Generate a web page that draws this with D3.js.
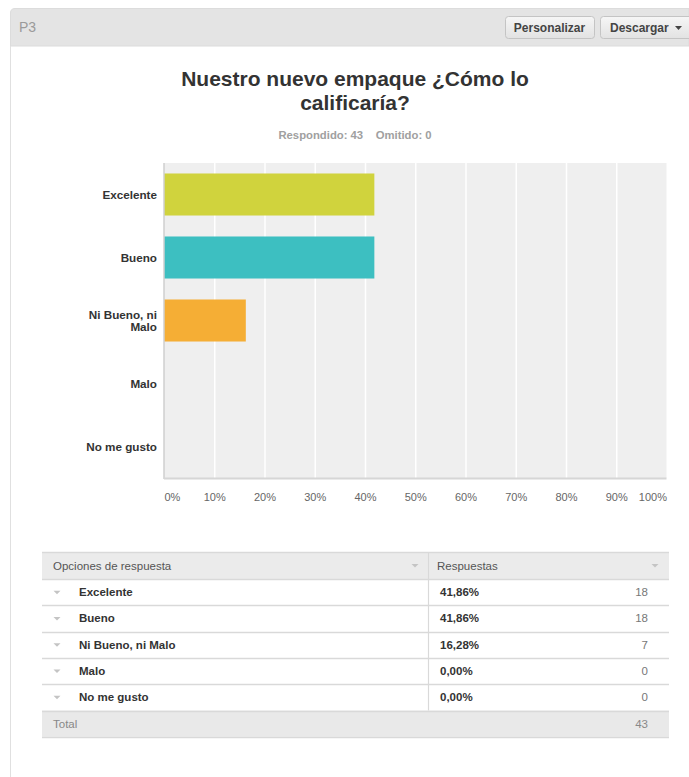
<!DOCTYPE html>
<html>
<head>
<meta charset="utf-8">
<script src="https://cdn.jsdelivr.net/npm/d3@7"></script>
<style>
  html, body { margin: 0; padding: 0; background: #fff; }
  svg { display: block; font-family: "Liberation Sans", Arial, Helvetica, sans-serif; }
</style>
</head>
<body>
<svg id="page" width="689" height="777"></svg>
<script>
// ---- Data ----
const questionId = "P3";
const title = ["Nuestro nuevo empaque ¿Cómo lo", "calificaría?"];
const answered = 43;
const skipped = 0;
const categories = ["Excelente", "Bueno", "Ni Bueno, ni Malo", "Malo", "No me gusto"];
const percents = [41.86, 41.86, 16.28, 0, 0];
const counts = [18, 18, 7, 0, 0];
const barColors = ["#d0d33d", "#3dbfc1", "#f5ae35", "#8ec06c", "#e26b5c"];
const tickValues = [0, 10, 20, 30, 40, 50, 60, 70, 80, 90, 100];
const tickLabels = ["0%", "10%", "20%", "30%", "40%", "50%", "60%", "70%", "80%", "90%", "100%"];
const total = 43;

const svg = d3.select("#page");

// ---- Frame / header ----
svg.append("path")
  .attr("d", "M10.5,777 L10.5,13 Q10.5,8.5 15,8.5 L689,8.5 L689,46 L10.5,46")
  .attr("fill", "#e4e4e4").attr("stroke", "#dcdcdc");
svg.append("line").attr("x1", 10.5).attr("x2", 10.5).attr("y1", 46).attr("y2", 777)
  .attr("stroke", "#e0e0e0");
svg.append("text").attr("x", 19).attr("y", 32).text(questionId)
  .attr("font-size", 14).attr("fill", "#9a9a9a");

function button(x, w, label, caret) {
  const g = svg.append("g");
  const grad = "g" + x;
  const lg = svg.append("defs").append("linearGradient").attr("id", grad)
    .attr("x1", 0).attr("x2", 0).attr("y1", 0).attr("y2", 1);
  lg.append("stop").attr("offset", "0%").attr("stop-color", "#f6f6f6");
  lg.append("stop").attr("offset", "100%").attr("stop-color", "#e2e2e2");
  g.append("rect").attr("x", x + 0.5).attr("y", 16.5).attr("width", w).attr("height", 22)
    .attr("rx", 3).attr("fill", `url(#${grad})`).attr("stroke", "#c4c4c4");
  g.append("text").attr("x", caret ? x + 10 : x + w / 2).attr("y", 31.5)
    .attr("text-anchor", caret ? "start" : "middle")
    .attr("font-size", 12).attr("font-weight", "bold").attr("fill", "#444").text(label);
  if (caret) {
    g.append("path").attr("d", `M${x + 75},26 l7,0 l-3.5,4 z`).attr("fill", "#444");
  }
}
button(505, 89, "Personalizar", false);
button(600, 92, "Descargar", true);

// ---- Title ----
const cx = 355;
svg.selectAll("text.title").data(title).join("text")
  .attr("class", "title")
  .attr("x", cx).attr("y", (d, i) => 86 + i * 24)
  .attr("text-anchor", "middle").attr("font-size", 21).attr("font-weight", "bold")
  .attr("fill", "#333").text(d => d);
svg.append("text").attr("x", cx).attr("y", 139).attr("text-anchor", "middle")
  .attr("font-size", 11.3).attr("font-weight", "bold").attr("fill", "#a0a0a0")
  .attr("xml:space", "preserve")
  .text(`Respondido: ${answered}    Omitido: ${skipped}`);

// ---- Chart ----
const plot = { left: 164, right: 666.5, top: 163, bottom: 478 };
const x = d3.scaleLinear().domain([0, 100]).range([plot.left, plot.right]);
const y = d3.scaleBand().domain(categories).range([plot.top, plot.bottom])
  .paddingInner(0.333).paddingOuter(0.1665);

svg.append("rect").attr("x", plot.left).attr("y", plot.top)
  .attr("width", plot.right - plot.left).attr("height", plot.bottom - plot.top)
  .attr("fill", "#efefef");

// gridlines via axis
const grid = svg.append("g").attr("transform", `translate(0,${plot.top})`)
  .call(d3.axisBottom(x).tickValues(tickValues.slice(1, -1))
    .tickSize(plot.bottom - plot.top).tickFormat(""));
grid.select(".domain").remove();
grid.selectAll(".tick line").attr("stroke", "#ffffff").attr("stroke-width", 1.5);

// bars
svg.selectAll("rect.bar").data(categories).join("rect")
  .attr("class", "bar")
  .attr("x", x(0))
  .attr("y", d => y(d))
  .attr("width", (d, i) => x(percents[i]) - x(0))
  .attr("height", y.bandwidth())
  .attr("fill", (d, i) => barColors[i]);

// axis lines
svg.append("line").attr("x1", plot.left).attr("x2", plot.left)
  .attr("y1", plot.top).attr("y2", plot.bottom + 1).attr("stroke", "#cfcfcf").attr("stroke-width", 1.5);
svg.append("line").attr("x1", plot.left).attr("x2", plot.right)
  .attr("y1", plot.bottom + 0.5).attr("y2", plot.bottom + 0.5).attr("stroke", "#d6d6d6").attr("stroke-width", 2);

// x tick labels
const xAxis = svg.append("g").attr("transform", `translate(0,${plot.bottom})`)
  .call(d3.axisBottom(x).tickValues(tickValues).tickSize(0).tickPadding(0)
    .tickFormat((d, i) => tickLabels[i]));
xAxis.select(".domain").remove();
xAxis.attr("fill", "#666");
xAxis.selectAll(".tick text")
  .attr("y", 23).attr("dy", 0)
  .attr("font-family", "'Liberation Sans', Arial, sans-serif")
  .attr("font-size", 11).attr("fill", "#666666")
  .attr("text-anchor", (d, i) => i === 0 ? "start" : (i === tickValues.length - 1 ? "end" : "middle"));

// y labels (wrapped)
function wrapLabel(s, maxW) {
  const words = s.split(" ");
  const lines = [];
  let cur = "";
  const ctx = document.createElement("canvas").getContext("2d");
  ctx.font = "bold 11.7px 'Liberation Sans', Arial";
  words.forEach(w => {
    const t = cur ? cur + " " + w : w;
    if (ctx.measureText(t).width > maxW && cur) { lines.push(cur); cur = w; } else cur = t;
  });
  lines.push(cur);
  return lines;
}
const yl = svg.selectAll("text.ylab").data(categories).join("text")
  .attr("class", "ylab")
  .attr("x", 157).attr("text-anchor", "end")
  .attr("font-size", 11.7).attr("font-weight", "bold").attr("fill", "#333");
yl.each(function (d) {
  const lines = wrapLabel(d, 78);
  const mid = y(d) + y.bandwidth() / 2;
  const lh = 12;
  const start = mid - (lines.length - 1) * lh / 2 + 4;
  d3.select(this).selectAll("tspan").data(lines).join("tspan")
    .attr("x", 157).attr("y", (l, i) => start + i * lh).text(l => l);
});

// ---- Table ----
const tb = { left: 42, right: 669, div: 428, top: 552, headH: 27, rowH: 26.3 };
const tg = svg.append("g");
tg.append("rect").attr("x", tb.left).attr("y", tb.top).attr("width", tb.right - tb.left)
  .attr("height", tb.headH).attr("fill", "#ebebeb");
const nRows = categories.length;
const totalTop = tb.top + tb.headH + nRows * tb.rowH;
tg.append("rect").attr("x", tb.left).attr("y", totalTop).attr("width", tb.right - tb.left)
  .attr("height", tb.rowH).attr("fill", "#e9e9e9");

// horizontal lines
const hLines = [tb.top];
for (let i = 0; i <= nRows; i++) hLines.push(tb.top + tb.headH + i * tb.rowH);
hLines.push(totalTop + tb.rowH);
tg.selectAll("line.h").data(hLines).join("line").attr("class", "h")
  .attr("x1", tb.left).attr("x2", tb.right)
  .attr("y1", d => Math.round(d) + 0.5).attr("y2", d => Math.round(d) + 0.5)
  .attr("stroke", "#d9d9d9").attr("stroke-width", 1.5);
tg.append("line").attr("x1", tb.div + 0.5).attr("x2", tb.div + 0.5)
  .attr("y1", tb.top).attr("y2", totalTop).attr("stroke", "#d9d9d9").attr("stroke-width", 1.2);

function caret(g, cx, cy) {
  g.append("path").attr("d", `M${cx - 3.5},${cy - 1.5} l7,0 l-3.5,3.5 z`).attr("fill", "#c4c4c4");
}
const fs = 11.5;
const hy = tb.top + tb.headH / 2 + 4;
tg.append("text").attr("x", 53).attr("y", hy).attr("font-size", fs).attr("fill", "#555")
  .text("Opciones de respuesta");
caret(tg, 415, tb.top + tb.headH / 2);
tg.append("text").attr("x", 437).attr("y", hy).attr("font-size", fs).attr("fill", "#555")
  .text("Respuestas");
caret(tg, 655, tb.top + tb.headH / 2);

categories.forEach((c, i) => {
  const top = tb.top + tb.headH + i * tb.rowH;
  const ty = top + tb.rowH / 2 + 4;
  caret(tg, 57, top + tb.rowH / 2);
  tg.append("text").attr("x", 79).attr("y", ty).attr("font-size", fs).attr("font-weight", "bold")
    .attr("fill", "#333").text(c);
  tg.append("text").attr("x", 440).attr("y", ty).attr("font-size", fs).attr("font-weight", "bold")
    .attr("fill", "#333").text(percents[i].toFixed(2).replace(".", ",") + "%");
  tg.append("text").attr("x", 648).attr("y", ty).attr("text-anchor", "end").attr("font-size", fs)
    .attr("fill", "#777777").text(counts[i]);
});
const tty = totalTop + tb.rowH / 2 + 4;
tg.append("text").attr("x", 53).attr("y", tty).attr("font-size", fs).attr("fill", "#888").text("Total");
tg.append("text").attr("x", 648).attr("y", tty).attr("text-anchor", "end").attr("font-size", fs)
  .attr("fill", "#888").text(total);
</script>
</body>
</html>
